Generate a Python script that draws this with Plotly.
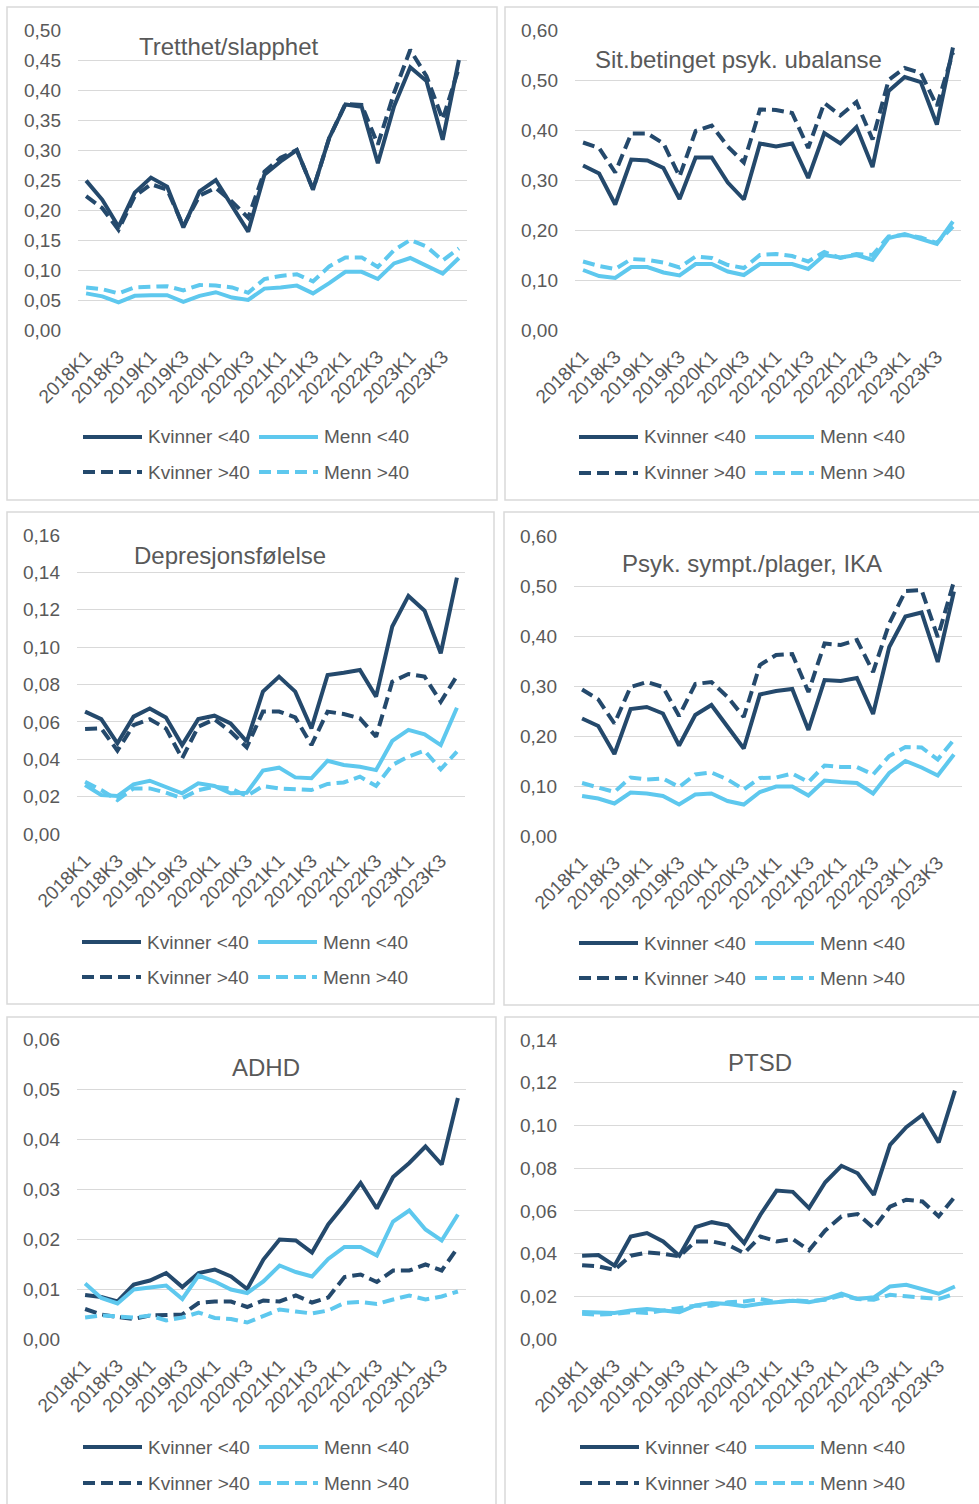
import plotly.graph_objects as go

# ---------------- DATA ----------------
quarters = ["2018K1", "2018K2", "2018K3", "2018K4", "2019K1", "2019K2", "2019K3", "2019K4",
            "2020K1", "2020K2", "2020K3", "2020K4", "2021K1", "2021K2", "2021K3", "2021K4",
            "2022K1", "2022K2", "2022K3", "2022K4", "2023K1", "2023K2", "2023K3", "2023K4"]
tick_labels = ["2018K1", "2018K3", "2019K1", "2019K3", "2020K1", "2020K3",
               "2021K1", "2021K3", "2022K1", "2022K3", "2023K1", "2023K3"]
series_names = ["Kvinner <40", "Menn <40", "Kvinner >40", "Menn >40"]
panel_titles = ["Tretthet/slapphet", "Sit.betinget psyk. ubalanse", "Depresjonsfølelse",
                "Psyk. sympt./plager, IKA", "ADHD", "PTSD"]
y_max = [0.50, 0.60, 0.16, 0.60, 0.06, 0.14]
y_step = [0.05, 0.10, 0.02, 0.10, 0.01, 0.02]

tretthet_kv_u40 = [0.249, 0.217, 0.172, 0.229, 0.254, 0.239, 0.171, 0.231, 0.250, 0.206, 0.164, 0.259,
                   0.281, 0.300, 0.234, 0.320, 0.376, 0.372, 0.278, 0.373, 0.438, 0.415, 0.317, 0.450]
tretthet_menn_u40 = [0.061, 0.056, 0.046, 0.057, 0.058, 0.058, 0.047, 0.057, 0.063, 0.054, 0.050, 0.069,
                     0.071, 0.074, 0.061, 0.078, 0.097, 0.097, 0.085, 0.111, 0.120, 0.107, 0.094, 0.120]
tretthet_kv_o40 = [0.223, 0.203, 0.167, 0.223, 0.243, 0.234, 0.173, 0.224, 0.237, 0.214, 0.187, 0.264,
                   0.287, 0.300, 0.234, 0.320, 0.377, 0.375, 0.309, 0.395, 0.467, 0.423, 0.351, 0.437]
tretthet_menn_o40 = [0.071, 0.068, 0.061, 0.071, 0.072, 0.073, 0.066, 0.075, 0.074, 0.071, 0.062, 0.085,
                     0.090, 0.093, 0.081, 0.106, 0.121, 0.121, 0.105, 0.133, 0.150, 0.139, 0.116, 0.136]

sit_kv_u40 = [0.329, 0.313, 0.251, 0.341, 0.339, 0.324, 0.262, 0.345, 0.345, 0.295, 0.261, 0.373,
              0.367, 0.373, 0.304, 0.394, 0.373, 0.406, 0.326, 0.478, 0.506, 0.496, 0.411, 0.565]
sit_menn_u40 = [0.120, 0.108, 0.104, 0.126, 0.126, 0.115, 0.109, 0.132, 0.132, 0.117, 0.110, 0.132,
                0.132, 0.132, 0.122, 0.150, 0.145, 0.150, 0.140, 0.184, 0.192, 0.182, 0.172, 0.217]
sit_kv_o40 = [0.375, 0.364, 0.315, 0.393, 0.393, 0.373, 0.307, 0.398, 0.409, 0.367, 0.335, 0.441,
              0.440, 0.434, 0.364, 0.454, 0.429, 0.456, 0.381, 0.500, 0.524, 0.514, 0.448, 0.555]
sit_menn_o40 = [0.137, 0.128, 0.122, 0.142, 0.140, 0.135, 0.125, 0.147, 0.144, 0.130, 0.124, 0.150,
                0.152, 0.148, 0.137, 0.156, 0.144, 0.152, 0.150, 0.187, 0.190, 0.185, 0.174, 0.207]

depr_kv_u40 = [0.0655, 0.0615, 0.0485, 0.0628, 0.0672, 0.0623, 0.0476, 0.0615, 0.0633, 0.0592, 0.0494, 0.0762,
               0.0842, 0.0762, 0.0565, 0.0851, 0.0863, 0.0878, 0.0735, 0.1110, 0.1274, 0.1195, 0.0967, 0.1372]
depr_menn_u40 = [0.0262, 0.0209, 0.0203, 0.0266, 0.0285, 0.0253, 0.0218, 0.0271, 0.0257, 0.0218, 0.0221, 0.0339,
                 0.0355, 0.0303, 0.0298, 0.0392, 0.0369, 0.0360, 0.0342, 0.0498, 0.0557, 0.0533, 0.0476, 0.0676]
depr_kv_o40 = [0.0562, 0.0565, 0.0446, 0.0583, 0.0614, 0.0565, 0.0405, 0.0574, 0.0614, 0.0548, 0.0464, 0.0655,
               0.0655, 0.0624, 0.0476, 0.0655, 0.0642, 0.0619, 0.0521, 0.0815, 0.0856, 0.0842, 0.0708, 0.0846]
depr_menn_o40 = [0.0280, 0.0235, 0.0182, 0.0244, 0.0244, 0.0221, 0.0191, 0.0235, 0.0253, 0.0244, 0.0203, 0.0257,
                 0.0244, 0.0239, 0.0235, 0.0268, 0.0276, 0.0307, 0.0257, 0.0369, 0.0414, 0.0446, 0.0346, 0.0441]

ika_kv_u40 = [0.235, 0.220, 0.164, 0.254, 0.258, 0.245, 0.181, 0.242, 0.262, 0.220, 0.175, 0.283,
              0.290, 0.294, 0.212, 0.312, 0.310, 0.316, 0.244, 0.378, 0.439, 0.447, 0.348, 0.489]
ika_menn_u40 = [0.080, 0.075, 0.065, 0.087, 0.085, 0.080, 0.063, 0.083, 0.085, 0.070, 0.063, 0.088,
                0.099, 0.099, 0.081, 0.111, 0.108, 0.106, 0.085, 0.126, 0.150, 0.137, 0.121, 0.163]
ika_kv_o40 = [0.293, 0.273, 0.225, 0.298, 0.308, 0.298, 0.240, 0.304, 0.308, 0.278, 0.238, 0.342,
              0.362, 0.364, 0.288, 0.385, 0.382, 0.392, 0.328, 0.425, 0.490, 0.492, 0.398, 0.509]
ika_menn_o40 = [0.106, 0.098, 0.088, 0.117, 0.113, 0.115, 0.098, 0.123, 0.127, 0.113, 0.093, 0.116,
                0.117, 0.125, 0.108, 0.141, 0.138, 0.138, 0.123, 0.160, 0.178, 0.177, 0.153, 0.193]

adhd_kv_u40 = [0.0088, 0.0084, 0.0075, 0.0109, 0.0117, 0.0132, 0.0104, 0.0132, 0.0139, 0.0125, 0.0100, 0.0159,
               0.0199, 0.0197, 0.0173, 0.0229, 0.0269, 0.0312, 0.0261, 0.0324, 0.0352, 0.0385, 0.0349, 0.0482]
adhd_menn_u40 = [0.0111, 0.0082, 0.0071, 0.0099, 0.0103, 0.0107, 0.0080, 0.0127, 0.0115, 0.0099, 0.0092, 0.0115,
                 0.0147, 0.0134, 0.0125, 0.0160, 0.0184, 0.0184, 0.0167, 0.0235, 0.0257, 0.0219, 0.0197, 0.0249]
adhd_kv_o40 = [0.0060, 0.0049, 0.0044, 0.0040, 0.0047, 0.0049, 0.0049, 0.0072, 0.0075, 0.0075, 0.0064, 0.0077,
               0.0075, 0.0087, 0.0073, 0.0083, 0.0124, 0.0129, 0.0114, 0.0137, 0.0137, 0.0149, 0.0137, 0.0183]
adhd_menn_o40 = [0.0043, 0.0047, 0.0045, 0.0043, 0.0047, 0.0037, 0.0043, 0.0053, 0.0042, 0.0040, 0.0033, 0.0047,
                 0.0059, 0.0055, 0.0051, 0.0057, 0.0072, 0.0074, 0.0070, 0.0079, 0.0087, 0.0079, 0.0085, 0.0095]

ptsd_kv_u40 = [0.0390, 0.0393, 0.0343, 0.0480, 0.0496, 0.0457, 0.0390, 0.0524, 0.0547, 0.0532, 0.0449, 0.0582,
               0.0695, 0.0689, 0.0613, 0.0734, 0.0811, 0.0776, 0.0675, 0.0909, 0.0992, 0.1049, 0.0920, 0.1163]
ptsd_menn_u40 = [0.0126, 0.0126, 0.0122, 0.0133, 0.0140, 0.0133, 0.0126, 0.0157, 0.0168, 0.0164, 0.0153, 0.0165,
                 0.0172, 0.0179, 0.0172, 0.0187, 0.0212, 0.0187, 0.0195, 0.0246, 0.0254, 0.0231, 0.0212, 0.0246]
ptsd_kv_o40 = [0.0345, 0.0340, 0.0324, 0.0390, 0.0405, 0.0399, 0.0387, 0.0457, 0.0457, 0.0441, 0.0402, 0.0480,
               0.0457, 0.0468, 0.0415, 0.0508, 0.0574, 0.0585, 0.0519, 0.0620, 0.0652, 0.0644, 0.0574, 0.0667]
ptsd_menn_o40 = [0.0118, 0.0114, 0.0117, 0.0126, 0.0122, 0.0134, 0.0145, 0.0156, 0.0156, 0.0172, 0.0176, 0.0187,
                 0.0172, 0.0181, 0.0176, 0.0184, 0.0203, 0.0187, 0.0184, 0.0207, 0.0200, 0.0195, 0.0187, 0.0212]

panel_data = [
    [tretthet_kv_u40, tretthet_menn_u40, tretthet_kv_o40, tretthet_menn_o40],
    [sit_kv_u40, sit_menn_u40, sit_kv_o40, sit_menn_o40],
    [depr_kv_u40, depr_menn_u40, depr_kv_o40, depr_menn_o40],
    [ika_kv_u40, ika_menn_u40, ika_kv_o40, ika_menn_o40],
    [adhd_kv_u40, adhd_menn_u40, adhd_kv_o40, adhd_menn_o40],
    [ptsd_kv_u40, ptsd_menn_u40, ptsd_kv_o40, ptsd_menn_o40],
]

# ---------------- STYLE / LAYOUT ----------------
W, H = 979, 1504
DARK = "#24496C"
LIGHT = "#5EC8EE"
TEXT = "#595959"
GRID = "#D9D9D9"
FONT = "Liberation Sans, Arial, sans-serif"
DASH = "12px,6px"
series_style = [(DARK, "solid"), (LIGHT, "solid"), (DARK, DASH), (LIGHT, DASH)]

# plot-area pixel boxes: (x0, x1, ytop, ybottom)
plot_boxes = [(78, 467, 30, 330), (575, 961, 30, 330),
              (77, 465, 535, 834), (574, 962, 536, 836),
              (77, 466, 1039, 1339), (574, 963, 1040, 1339)]
# panel frame boxes: (x0, x1, ytop, ybottom)
frames = [(7, 497, 7, 500), (505, 985, 7, 500),
          (7, 494, 512, 1004), (504, 985, 512, 1005),
          (7, 496, 1017, 1510), (505, 985, 1017, 1510)]
# title centres (x, y)
title_pos = [(229, 46), (738, 60), (230, 555), (752, 563), (266, 1067), (760, 1062)]
# legend: (left line x0, right line x0, row1 y, row2 y)
legend_pos = [(83, 259, 437, 472), (579, 755, 437, 473),
              (82, 258, 942, 977), (579, 755, 943, 978),
              (83, 259, 1447, 1483), (580, 755, 1447, 1483)]


def px(x):
    return x / W


def py(y):
    return 1 - y / H


fig = go.Figure()
layout_axes = {}
shapes = []
annotations = []

for k in range(6):
    xa = "x" if k == 0 else f"x{k + 1}"
    ya = "y" if k == 0 else f"y{k + 1}"
    for s in range(4):
        color, dash = series_style[s]
        fig.add_trace(go.Scatter(
            x=quarters, y=panel_data[k][s], mode="lines", name=series_names[s],
            line=dict(color=color, width=4, dash=dash),
            xaxis=xa, yaxis=ya, showlegend=False))

    x0, x1, yt, yb = plot_boxes[k]
    xkey = "xaxis" if k == 0 else f"xaxis{k + 1}"
    ykey = "yaxis" if k == 0 else f"yaxis{k + 1}"
    layout_axes[xkey] = dict(
        domain=[px(x0), px(x1)], anchor=ya, type="category", automargin=False,
        categoryorder="array", categoryarray=quarters,
        range=[-0.5, 23.5], tickmode="array", tickvals=tick_labels, ticktext=tick_labels,
        tickangle=-45, showgrid=False, zeroline=False, showline=False, ticks="",
        ticklabelstandoff=11,
        tickfont=dict(family=FONT, size=19, color=TEXT))
    layout_axes[ykey] = dict(
        domain=[py(yb), py(yt)], anchor=xa, range=[0, y_max[k]], automargin=False,
        tick0=0, dtick=y_step[k], tickformat=".2f",
        showgrid=True, gridcolor=GRID, gridwidth=1, zeroline=False, showline=False,
        ticks="", ticklabelstandoff=16,
        tickfont=dict(family=FONT, size=19, color=TEXT))

    fx0, fx1, fyt, fyb = frames[k]
    shapes.append(dict(type="rect", xref="paper", yref="paper",
                       x0=px(fx0), x1=px(fx1), y0=py(fyb), y1=py(fyt),
                       line=dict(color=GRID, width=1.5), fillcolor="rgba(0,0,0,0)", layer="below"))

    tx, ty = title_pos[k]
    annotations.append(dict(text=panel_titles[k], x=px(tx), y=py(ty), xref="paper", yref="paper",
                            showarrow=False, xanchor="center", yanchor="middle",
                            font=dict(family=FONT, size=24, color=TEXT)))

    lx_left, lx_right, r1, r2 = legend_pos[k]
    for s in range(4):
        color, dash = series_style[s]
        lx = lx_left if s % 2 == 0 else lx_right
        ly = r1 if s < 2 else r2
        shapes.append(dict(type="line", xref="paper", yref="paper",
                           x0=px(lx), x1=px(lx + 59), y0=py(ly), y1=py(ly),
                           line=dict(color=color, width=4, dash=dash)))
        annotations.append(dict(text=series_names[s], x=px(lx + 63), y=py(ly), xref="paper", yref="paper",
                                showarrow=False, xanchor="left", yanchor="middle",
                                font=dict(family=FONT, size=19, color=TEXT)))

fig.update_layout(
    template="none",
    width=W, height=H, margin=dict(l=0, r=0, t=0, b=0, pad=0, autoexpand=False),
    paper_bgcolor="white", plot_bgcolor="white",
    separators=", ", showlegend=False, hovermode=False,
    font=dict(family=FONT, color=TEXT),
    shapes=shapes, annotations=annotations,
    **layout_axes)

fig.write_html("out.html", config={"displayModeBar": False},
               post_script="document.body.style.margin='0px';document.body.style.overflow='hidden';")
